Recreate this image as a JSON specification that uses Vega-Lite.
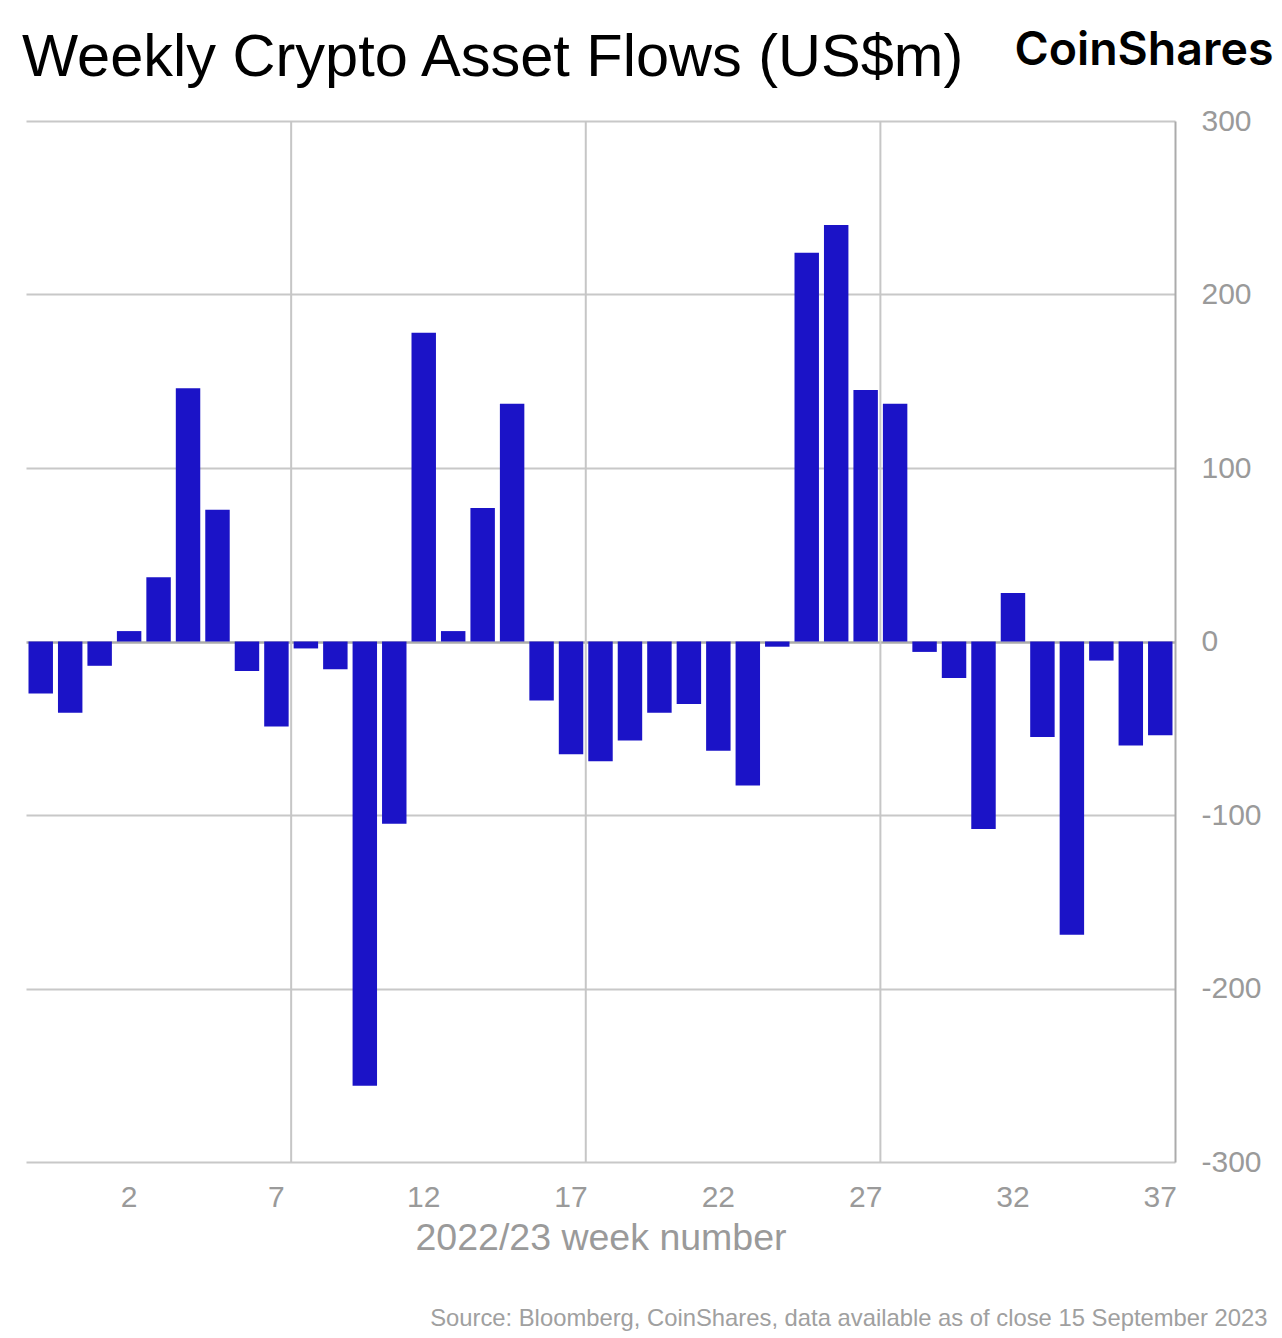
{
  "$schema": "https://vega.github.io/schema/vega-lite/v6.json",
  "autosize": "none",
  "width": 1149,
  "height": 1041,
  "padding": {"left": 26, "top": 121, "right": 107, "bottom": 176},
  "background": "white",
  "title": {
    "text": "Weekly Crypto Asset Flows (US$m)",
    "anchor": "start",
    "frame": "group",
    "font": "Liberation Sans",
    "fontSize": 59.5,
    "fontWeight": "normal",
    "color": "#000000",
    "baseline": "alphabetic",
    "offset": -108,
    "dx": -4
  },
  "data": {
    "values": [
      {"week": "51", "flow": -30},
      {"week": "52", "flow": -41},
      {"week": "1", "flow": -14},
      {"week": "2", "flow": 6},
      {"week": "3", "flow": 37},
      {"week": "4", "flow": 146},
      {"week": "5", "flow": 76},
      {"week": "6", "flow": -17},
      {"week": "7", "flow": -49},
      {"week": "8", "flow": -4},
      {"week": "9", "flow": -16},
      {"week": "10", "flow": -256},
      {"week": "11", "flow": -105},
      {"week": "12", "flow": 178},
      {"week": "13", "flow": 6},
      {"week": "14", "flow": 77},
      {"week": "15", "flow": 137},
      {"week": "16", "flow": -34},
      {"week": "17", "flow": -65},
      {"week": "18", "flow": -69},
      {"week": "19", "flow": -57},
      {"week": "20", "flow": -41},
      {"week": "21", "flow": -36},
      {"week": "22", "flow": -63},
      {"week": "23", "flow": -83},
      {"week": "24", "flow": -3},
      {"week": "25", "flow": 224},
      {"week": "26", "flow": 240},
      {"week": "27", "flow": 145},
      {"week": "28", "flow": 137},
      {"week": "29", "flow": -6},
      {"week": "30", "flow": -21},
      {"week": "31", "flow": -108},
      {"week": "32", "flow": 28},
      {"week": "33", "flow": -55},
      {"week": "34", "flow": -169},
      {"week": "35", "flow": -11},
      {"week": "36", "flow": -60},
      {"week": "37", "flow": -54}
    ]
  },
  "layer": [
    {
      "mark": {"type": "bar", "color": "#1b13c7", "width": {"band": 0.83}},
      "encoding": {
        "x": {
          "field": "week",
          "type": "ordinal",
          "sort": null,
          "scale": {"paddingInner": 0, "paddingOuter": 0},
          "axis": {
            "orient": "bottom",
            "values": ["2", "7", "12", "17", "22", "27", "32", "37"],
            "labelAngle": 0,
            "ticks": false,
            "domain": false,
            "grid": false,
            "labelFont": "Liberation Sans",
            "labelFontSize": 30,
            "labelColor": "#9a9a9a",
            "labelPadding": 20,
            "title": "2022/23 week number",
            "titleFont": "Liberation Sans",
            "titleFontSize": 37.5,
            "titleFontWeight": "normal",
            "titleColor": "#9a9a9a",
            "titlePadding": 7
          }
        },
        "y": {
          "field": "flow",
          "type": "quantitative",
          "scale": {"domain": [-300, 300], "nice": false},
          "axis": {
            "orient": "right",
            "values": [-300, -200, -100, 0, 100, 200, 300],
            "labelExpr": "'' + datum.value",
            "ticks": false,
            "domain": true,
            "domainColor": "#ababab",
            "domainWidth": 2,
            "grid": true,
            "gridColor": {"condition": {"test": "datum.value === 0", "value": "#ababab"}, "value": "#c8c8c8"},
            "gridWidth": {"condition": {"test": "datum.value === 0", "value": 2.5}, "value": 2},
            "labelFont": "Liberation Sans",
            "labelFontSize": 30,
            "labelColor": "#9a9a9a",
            "labelPadding": 26,
            "labelAlign": "left",
            "labelBaseline": "middle",
            "title": null
          }
        }
      }
    },
    {
      "transform": [{"filter": {"field": "week", "oneOf": ["7", "17", "27"]}}],
      "mark": {"type": "rule", "color": "#c6c6c6", "strokeWidth": 2},
      "encoding": {
        "x": {
          "field": "week",
          "type": "ordinal",
          "sort": null,
          "bandPosition": 1,
          "axis": {
            "orient": "top",
            "labels": false,
            "ticks": false,
            "domain": false,
            "grid": false,
            "title": "CoinShares",
            "titleFont": "Inter",
            "titleFontSize": 46.5,
            "titleFontWeight": 600,
            "titleColor": "#000000",
            "titleAnchor": "end",
            "titleAlign": "right",
            "titleBaseline": "alphabetic",
            "titleX": 1247,
            "titleY": -57
          }
        },
        "y": {
          "datum": -300,
          "type": "quantitative",
          "axis": {
            "orient": "left",
            "labels": false,
            "ticks": false,
            "domain": false,
            "grid": false,
            "title": "Source: Bloomberg, CoinShares, data available as of close 15 September 2023",
            "titleFont": "Liberation Sans",
            "titleFontSize": 23.8,
            "titleFontWeight": "normal",
            "titleColor": "#a0a0a0",
            "titleAngle": 0,
            "titleAlign": "right",
            "titleBaseline": "alphabetic",
            "titleX": 1241,
            "titleY": 1204
          }
        },
        "y2": {"datum": 300}
      }
    }
  ],
  "resolve": {"axis": {"x": "independent", "y": "independent"}},
  "config": {"view": {"stroke": null}}
}
